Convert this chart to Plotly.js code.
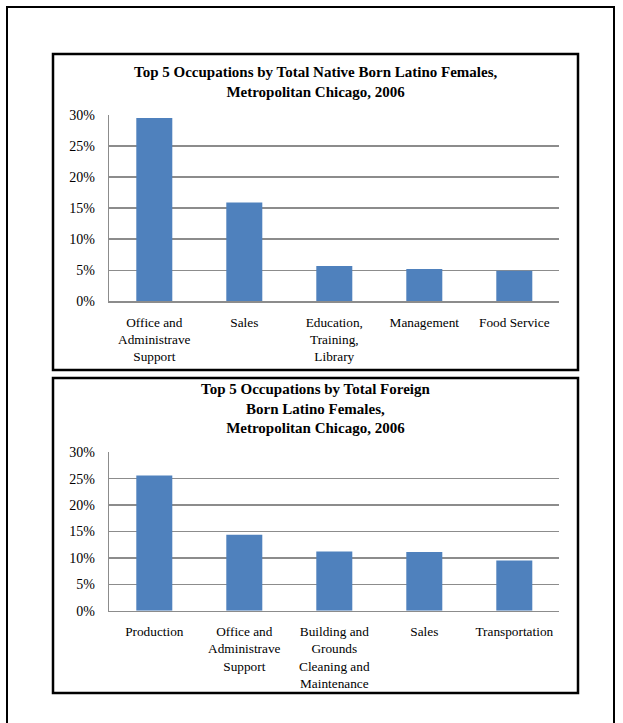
<!DOCTYPE html>
<html>
<head>
<meta charset="utf-8">
<script src="https://cdn.plot.ly/plotly-3.0.1.min.js"></script>
<style>
  html, body { margin: 0; padding: 0; background: #ffffff; }
  #chart { width: 623px; height: 723px; }
</style>
</head>
<body>
<div id="chart"></div>
<script>
// ---- Data ----
const nativeCategories = ["Office and<br>Administrave<br>Support", "Sales", "Education,<br>Training,<br>Library", "Management", "Food Service"];
const nativeValues = [29.5, 15.9, 5.7, 5.2, 4.9];

const foreignCategories = ["Production", "Office and<br>Administrave<br>Support", "Building and<br>Grounds<br>Cleaning and<br>Maintenance", "Sales", "Transportation"];
const foreignValues = [25.6, 14.4, 11.2, 11.1, 9.5];

const nativeTitle = "<b>Top 5 Occupations by Total Native Born Latino Females,<br>Metropolitan Chicago, 2006</b>";
const foreignTitle = "<b>Top 5 Occupations by Total Foreign<br>Born Latino Females,<br>Metropolitan Chicago, 2006</b>";

const yTickVals = [0, 5, 10, 15, 20, 25, 30];
const yTickText = ["0%", "5%", "10%", "15%", "20%", "25%", "30%"];

// ---- Styling ----
const W = 623, H = 723;
const px = v => v / W;
const py = v => 1 - v / H;
const FONT = "Liberation Serif";
const BAR = "#4F81BD";
const GRID = "#8c8c8c";

const traces = [
  { type: "bar", x: nativeCategories, y: nativeValues, xaxis: "x", yaxis: "y",
    marker: { color: BAR }, hoverinfo: "skip" },
  { type: "bar", x: foreignCategories, y: foreignValues, xaxis: "x2", yaxis: "y2",
    marker: { color: BAR }, hoverinfo: "skip" }
];

function xAx(domain, anchor) {
  return {
    domain: domain, anchor: anchor, type: "category",
    showgrid: false, showline: true, linecolor: GRID, linewidth: 1.5,
    ticks: "outside", ticklen: 8, tickcolor: "rgba(0,0,0,0)",
    tickfont: { family: FONT, size: 13.3, color: "#000" },
    tickangle: 0, fixedrange: true
  };
}
function yAx(domain, anchor) {
  return {
    domain: domain, anchor: anchor, range: [0, 30],
    tickmode: "array", tickvals: yTickVals, ticktext: yTickText,
    showgrid: true, gridcolor: GRID, gridwidth: 1.5,
    showline: true, linecolor: GRID, linewidth: 1.5,
    zeroline: false,
    ticks: "outside", ticklen: 10, tickcolor: "rgba(0,0,0,0)",
    tickfont: { family: FONT, size: 14, color: "#000" },
    fixedrange: true
  };
}

const layout = {
  width: W, height: H,
  margin: { l: 0, r: 0, t: 0, b: 0 },
  paper_bgcolor: "#ffffff", plot_bgcolor: "#ffffff",
  showlegend: false,
  bargap: 0.6,
  font: { family: FONT, color: "#000" },
  xaxis: xAx([px(109.3), px(559.3)], "y"),
  yaxis: yAx([py(301.3), py(115)], "x"),
  xaxis2: xAx([px(109.3), px(559.3)], "y2"),
  yaxis2: yAx([py(610.7), py(452.3)], "x2"),
  annotations: [
    { text: nativeTitle, xref: "paper", yref: "paper", x: px(315.5), y: py(81.5),
      xanchor: "center", yanchor: "middle", showarrow: false, align: "center",
      font: { family: FONT, size: 15, color: "#000" } },
    { text: foreignTitle, xref: "paper", yref: "paper", x: px(315.5), y: py(408),
      xanchor: "center", yanchor: "middle", showarrow: false, align: "center",
      font: { family: FONT, size: 15, color: "#000" } }
  ],
  shapes: [
    { type: "rect", xref: "paper", yref: "paper", x0: px(7), x1: px(614), y0: -0.05, y1: py(7),
      line: { color: "#000", width: 2 }, layer: "below" },
    { type: "rect", xref: "paper", yref: "paper", x0: px(53), x1: px(578), y0: py(370), y1: py(54),
      line: { color: "#000", width: 2.5 }, layer: "below" },
    { type: "rect", xref: "paper", yref: "paper", x0: px(53), x1: px(578), y0: py(693), y1: py(378),
      line: { color: "#000", width: 2.5 }, layer: "below" }
  ]
};

Plotly.newPlot("chart", traces, layout, { displayModeBar: false, staticPlot: true });
</script>
</body>
</html>
